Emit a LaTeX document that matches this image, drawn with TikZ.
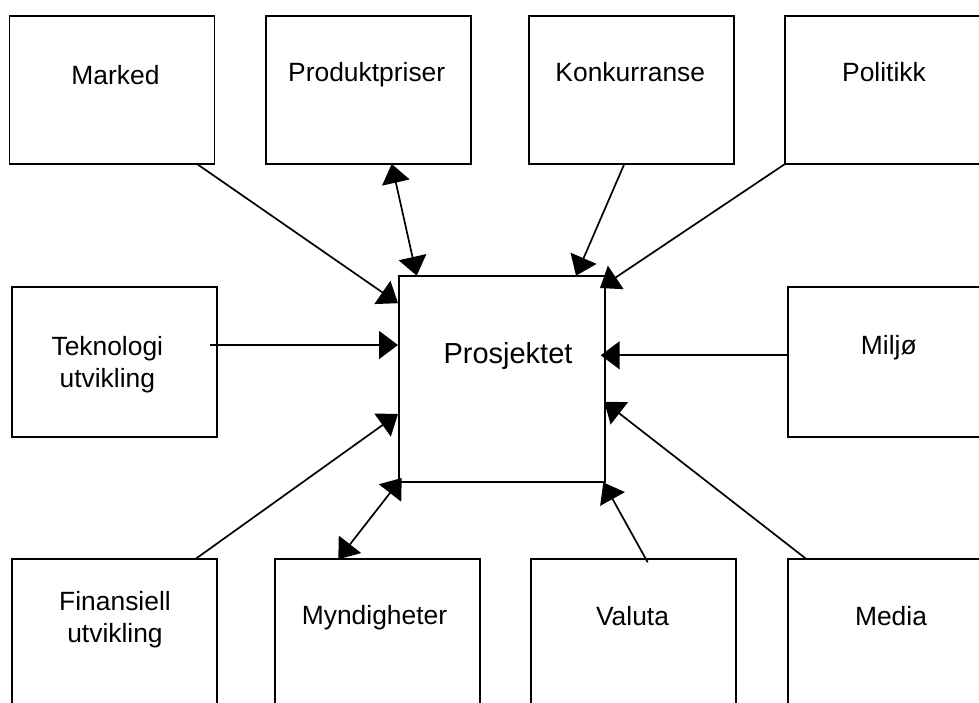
\documentclass[tikz,border=0pt]{standalone}
\usepackage{fontspec}
\setmainfont{Liberation Sans}
\usetikzlibrary{arrows.meta,calc}
\begin{document}
\begin{tikzpicture}[x=1pt,y=-1pt,
  box/.style={draw, line width=1.7pt, rectangle, minimum width=205pt,
    minimum height=148pt, inner sep=0pt, outer sep=0pt, anchor=north west},
  midbox/.style={box, minimum height=149.4pt},
  lbl/.style={font=\fontsize{26.4}{32}\selectfont, inner sep=0pt, anchor=base},
  lbltwo/.style={font=\fontsize{26.4}{32}\selectfont, inner sep=0pt,
    anchor=north, align=center},
  tip/.tip={Triangle[length=19pt,width=28pt]},
  conn/.style={line width=1.7pt, -tip},
  both/.style={line width=1.7pt, tip-tip}
]
\clip (0,0) rectangle (979,702);

% surrounding factors
\node[box]    (mark) at (9.5,16) {};
\node[box]    (prod) at (265.7,16) {};
\node[box]    (konk) at (529,16) {};
\node[box]    (poli) at (785,16) {};
\node[midbox] (tekn) at (12.3,287.3) {};
\node[midbox] (milj) at (787.7,287.3) {};
\node[box]    (fina) at (12.3,559.3) {};
\node[box]    (mynd) at (275,559.3) {};
\node[box]    (valu) at (531,559.3) {};
\node[box]    (medi) at (787.7,559.3) {};

% the project in the middle
\node[box, minimum width=206pt, minimum height=206pt] (proj) at (399,275.7) {};

% labels
\node[lbl] (tmark) at (115.5,84.3) {Marked};
\node[lbl] (tprod) at (366.7,81.7) {Produktpriser};
\node[lbl] (tkonk) at (630.3,81.7) {Konkurranse};
\node[lbl] (tpoli) at (884,81.7) {Politikk};
\node[lbltwo] (ttekn) at (107.3,336.4) {Teknologi\\utvikling};
\node[lbl] (tmilj) at (888.8,354.3) {Miljø};
\node[lbltwo] (tfina) at (115,590.7) {Finansiell\\utvikling};
\node[lbl] (tmynd) at (374.5,624.3) {Myndigheter};
\node[lbl] (tvalu) at (632.5,625) {Valuta};
\node[lbl] (tmedi) at (891,625) {Media};
\node[lbl, font=\fontsize{29}{34}\selectfont] (tproj) at (508,363.3) {Prosjektet};

% influences on the project
\draw[conn] ($(mark.south east)+(-17.5,0)$) -- ($(proj.north west)+(-1,27.5)$);
\draw[both] ($(prod.south west)+(126,0)$) -- ($(proj.north west)+(17.7,0)$);
\draw[conn] ($(konk.south west)+(95.3,0)$) -- ($(proj.north east)+(-29,0)$);
\draw[conn] (poli.south west) -- ($(proj.north east)+(-5,12.3)$);
\draw[conn] ($(tekn.north east)+(-7.3,57.7)$) -- ($(proj.north west)+(-1,69.3)$);
\draw[conn] ($(milj.north west)+(0,68)$) -- ($(proj.north east)+(-4.3,79.6)$);
\draw[conn] ($(fina.north west)+(182.7,0)$) -- ($(proj.north west)+(-1,138.3)$);
\draw[both] ($(mynd.north west)+(63.3,0)$) -- ($(proj.south west)+(2.7,-3.7)$);
\draw[conn] ($(valu.north west)+(116.7,3)$) -- ($(proj.south east)+(-1.7,0.7)$);
\draw[conn] ($(medi.north west)+(19,0)$) -- ($(proj.north east)+(-0.7,126)$);
\end{tikzpicture}
\end{document}
